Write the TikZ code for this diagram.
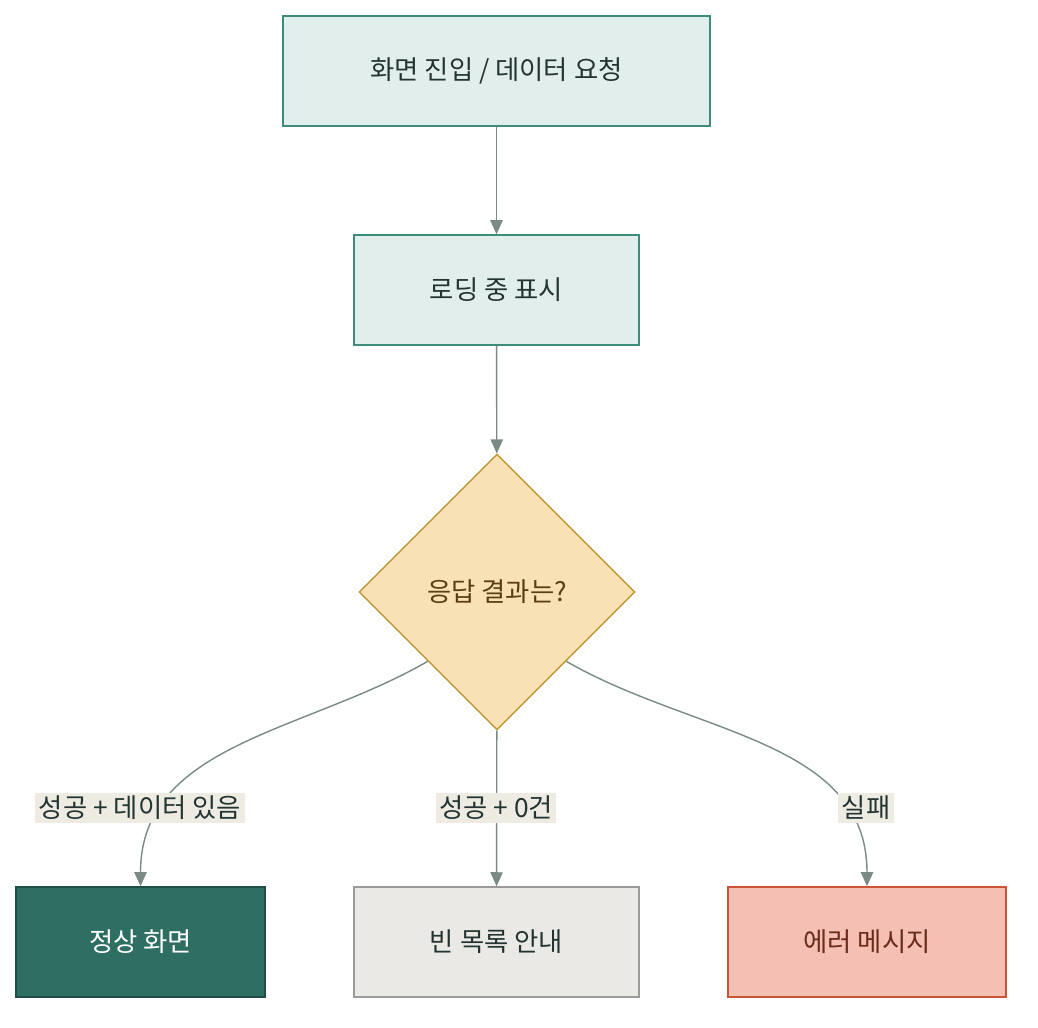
\documentclass[tikz,border=0pt]{standalone}
\usepackage{fontspec}
\setmainfont{Noto Sans CJK KR}
\usetikzlibrary{arrows.meta,shapes.geometric}
\definecolor{flux}{HTML}{7A8A86}
\definecolor{vertpale}{HTML}{E1EEEB}
\definecolor{vertbord}{HTML}{3D8C7C}
\definecolor{sable}{HTML}{F7E1B5}
\definecolor{sablebord}{HTML}{C4962F}
\definecolor{sabletexte}{HTML}{5A3E10}
\definecolor{vertfonce}{HTML}{2F6E63}
\definecolor{vertfoncebord}{HTML}{1F4E46}
\definecolor{grispale}{HTML}{EBE9E5}
\definecolor{grisbord}{HTML}{9A9A98}
\definecolor{rouge}{HTML}{F4C0B3}
\definecolor{rougebord}{HTML}{CC5533}
\definecolor{rougetexte}{HTML}{6B2A1A}
\definecolor{etiq}{HTML}{EEEBE3}
\definecolor{encre}{HTML}{233533}

\begin{document}
\begin{tikzpicture}[font=\fontsize{15}{18}\selectfont, text=encre]
	\tikzstyle{boite}=[rectangle, minimum height=2.2cm, draw=vertbord, fill=vertpale, thick]
	\tikzstyle{fl}=[draw=flux, thick, -{Triangle[length=8pt,width=7pt]}]
	\tikzstyle{lab}=[fill=etiq, inner sep=2pt]
	\useasboundingbox (0,0) rectangle (20.76,-20.56);

	% ETAPES
	\node[boite, minimum width=8.54cm] (entree) at (9.93,-1.42) {화면 진입 / 데이터 요청};
	\node[boite, minimum width=5.7cm] (charge) at (9.93,-5.8) {로딩 중 표시};
	\node[diamond, aspect=1, minimum width=5.52cm, minimum height=5.52cm, draw=sablebord, fill=sable, thick, text=sabletexte] (reponse) at (9.94,-11.84) {응답 결과는?};
	\node[boite, minimum width=4.98cm, draw=vertfoncebord, fill=vertfonce, text=white] (normal) at (2.81,-18.84) {정상 화면};
	\node[boite, minimum width=5.7cm, draw=grisbord, fill=grispale] (vide) at (9.93,-18.84) {빈 목록 안내};
	\node[boite, minimum width=5.56cm, draw=rougebord, fill=rouge, text=rougetexte] (erreur) at (17.34,-18.84) {에러 메시지};

	% TRANSITIONS
	\path
		(entree) edge [fl] (charge)
		(charge) edge [fl] (reponse)
		(reponse.south west) edge [fl, out=210, in=90] (normal.north)
		(reponse) edge [fl] (vide)
		(reponse.south east) edge [fl, out=-30, in=90] (erreur.north)
	;

	% ETIQUETTES
	\node[lab] (ok) at (2.8,-16.16) {성공 + 데이터 있음};
	\node[lab] (zero) at (9.92,-16.16) {성공 + 0건};
	\node[lab] (echec) at (17.32,-16.16) {실패};
\end{tikzpicture}
\end{document}
